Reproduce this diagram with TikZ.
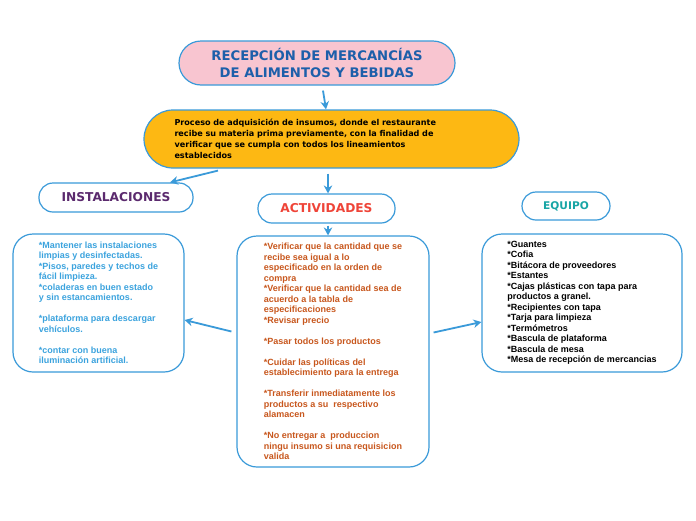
\documentclass[tikz,border=0pt]{standalone}
\usepackage{fontspec}
\setmainfont{Liberation Sans}
\newfontfamily\verdfont{DejaVu Sans}
\usetikzlibrary{positioning, arrows.meta}
\definecolor{lineblue}{HTML}{3A9AD9}
\definecolor{pinkbox}{HTML}{F8C5D0}
\definecolor{orangebox}{HTML}{FDB813}
\definecolor{titleblue}{HTML}{1D5FAA}
\definecolor{purpletxt}{HTML}{5B2A6E}
\definecolor{redtxt}{HTML}{EF4438}
\definecolor{tealtxt}{HTML}{17A5A5}
\definecolor{listblue}{HTML}{3BA3DE}
\definecolor{browntxt}{HTML}{C8571D}
\tikzset{main box/.style={draw=lineblue, line width=1.2pt, rounded corners=14pt, fill=white, align=center, font=\verdfont\bfseries\fontsize{12.2}{14}\selectfont},
list box/.style={draw=lineblue, line width=1.2pt, rounded corners=20pt, fill=white, align=left, font=\bfseries\fontsize{9}{10.5}\selectfont},
link/.style={draw=lineblue, line width=1.8pt, -{Stealth[length=8pt,width=8.5pt]}},}

\begin{document}
\begin{tikzpicture}[x=1pt, y=-1pt]
        \useasboundingbox[fill=white] (0,0) rectangle (696,520);
        % Title and definition
        \node[main box, fill=pinkbox, rounded corners=22pt, minimum width=276pt, minimum height=44pt, text=titleblue, font=\verdfont\bfseries\fontsize{13.2}{16.5}\selectfont] (title) at (317,63) {RECEPCIÓN DE MERCANCÍAS\\DE ALIMENTOS Y BEBIDAS};
        \node[main box, fill=orangebox, rounded corners=29pt, minimum height=58pt, text width=314pt, inner xsep=30.5pt, align=left, font=\verdfont\bfseries\fontsize{8.1}{11}\selectfont] (proc) at (331.5,139) {Proceso de adquisición de insumos, donde el restaurante\\recibe su materia prima previamente, con la finalidad de\\verificar que se cumpla con todos los lineamientos\\establecidos};
        % Headings
        \node[main box, minimum width=154pt, minimum height=29pt, text=purpletxt] (inst) at (116,197.5) {INSTALACIONES};
        \node[main box, minimum width=137pt, minimum height=29pt, text=redtxt] (act) at (326.5,208.5) {ACTIVIDADES};
        \node[main box, minimum width=88pt, minimum height=28pt, text=tealtxt, font=\verdfont\bfseries\fontsize{10.6}{12}\selectfont] (equipo) at (566,206) {EQUIPO};
        % Lists
        \node[list box, minimum width=171pt, minimum height=138pt, text=listblue] (instlist) at (98.5,303) {*Mantener las instalaciones\\limpias y desinfectadas.\\*Pisos, paredes y techos de\\fácil limpieza.\\*coladeras en buen estado\\y sin estancamientos.\\[10.5pt]*plataforma para descargar\\vehículos.\\[10.5pt]*contar con buena\\iluminación artificial.};
        \node[list box, minimum width=192pt, minimum height=231pt, text=browntxt] (actlist) at (333,351.5) {*Verificar que la cantidad que se\\recibe sea igual a lo\\especificado en la orden de\\compra\\*Verificar que la cantidad sea de\\acuerdo a la tabla de\\especificaciones\\*Revisar precio\\[10.5pt]*Pasar todos los productos\\[10.5pt]*Cuidar las políticas del\\establecimiento para la entrega\\[10.5pt]*Transferir inmediatamente los\\productos a su\ \ respectivo\\alamacen\\[10.5pt]*No entregar a\ \ produccion\\ningu insumo si una requisicion\\valida};
        \node[list box, minimum width=200pt, minimum height=138pt, text=black] (equipolist) at (582,303) {*Guantes\\*Cofia\\*Bitácora de proveedores\\*Estantes\\*Cajas plásticas con tapa para\\productos a granel.\\*Recipientes con tapa\\*Tarja para limpieza\\*Termómetros\\*Bascula de plataforma\\*Bascula de mesa\\*Mesa de recepción de mercancias};
        % Links
        \path
        ([xshift=6pt,yshift=-5pt]title.south) edge[link] ([xshift=-5.5pt]proc.north)
        ([xshift=-113.5pt,yshift=-2pt]proc.south) edge[link] ([xshift=54pt]inst.north)
        ([xshift=-3.5pt,yshift=-5pt]proc.south) edge[link] ([xshift=1.5pt]act.north)
        ([xshift=1.5pt,yshift=-2pt]act.south) edge[link] ([xshift=-5pt]actlist.north)
        ([xshift=-5pt,yshift=20pt]actlist.west) edge[link] ([yshift=-17pt]instlist.east)
        ([xshift=4pt,yshift=19pt]actlist.east) edge[link] ([yshift=-19pt]equipolist.west);
    \end{tikzpicture}
\end{document}
